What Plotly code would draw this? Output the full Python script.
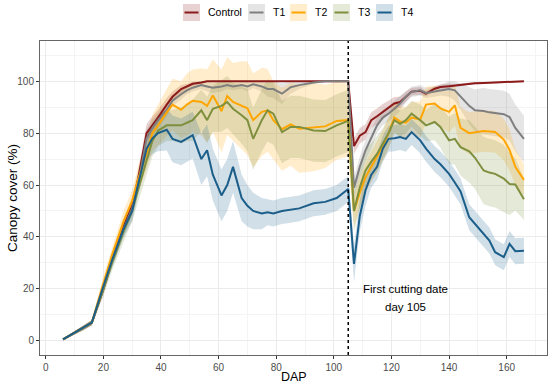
import plotly.graph_objects as go
import numpy as np

# ---------------- data ----------------
days = [6, 13, 16, 20, 23, 27, 30, 32, 35, 37, 39, 42, 44, 47, 49, 51, 54, 56, 58, 61,
        63, 65, 68, 70, 72, 75, 77, 79, 82, 85, 88, 93, 97, 101, 105,
        107, 109, 111, 113, 115, 117, 119, 121, 123, 125, 127, 130, 132, 135, 137,
        140, 142, 144, 147, 149, 152, 154, 156, 159, 161, 163, 166]

control = [0.5, 5, 7, 20, 31, 44, 52, 62, 80, 83, 86, 91, 94, 97, 98, 99, 99.5, 100, 100, 100,
           100, 100, 100, 100, 100, 100, 100, 100, 100, 100, 100, 100, 100, 100, 100,
           75, 79, 80.4, 85, 86.5, 88.2, 90, 91.4, 92, 94, 96, 96.3, 95.2, 97.1, 97.8,
           98.1, 98.4, 98.7, 99, 99.2, 99.3, 99.4, 99.5, 99.7, 99.7, 99.8, 100]
control_sd = [0.3, 1, 1, 2, 2, 2.5, 3, 3, 3.5, 3.5, 3, 2.5, 2, 1.5, 1, 0.8, 0.5] + [0.2] * 18 + \
             [3, 3, 3, 3, 3, 3, 2.5, 2.5, 2, 2, 1.5, 1.5, 1, 1, 1, 1, 0.5, 0.5, 0.5, 0.5,
              0.3, 0.3, 0.3, 0.3, 0.3, 0.3, 0.3]

t1 = [0.5, 5, 7, 20, 31, 43, 51, 60, 78, 82, 85, 89, 92.5, 95, 96.5, 97.5, 98.5, 98, 97.5, 98,
      98.5, 98, 98.5, 98, 98.8, 98, 97, 97, 95.2, 97.7, 98.5, 99.5, 100, 100, 100,
      59, 67, 73.4, 78, 83, 86, 87.5, 89.4, 91.4, 94, 95.9, 96.5, 95.5, 96, 96.5,
      97, 96.5, 94, 90.5, 88.8, 88.5, 88, 87.8, 87.3, 86.2, 82, 77.8]
t1_sd = [0.3, 1, 1, 2, 2.5, 3, 3, 3, 3.5, 3.5, 3, 2.5, 2, 2, 1.5, 1.5, 1.5, 2, 2, 2,
         1.5, 1.5, 1.5, 2, 1.5, 2, 3, 3.5, 4, 2.5, 1.5, 0.5, 0.3, 0.3, 0.3,
         4, 4, 4, 4, 3, 3, 3, 3, 3, 2, 2, 2, 2, 2, 2, 3, 4, 5, 7, 8, 9, 9, 9, 9, 9, 9, 9]

t2 = [0.5, 5, 7, 22, 33, 46, 54, 62, 72, 80, 83, 88, 91, 89, 91, 92.5, 92, 90.5, 94.5, 88.5,
      94.3, 92, 90.7, 89.6, 85, 88.2, 88.8, 85, 81.5, 83.4, 81.7, 82.3, 82.6, 84.7, 85,
      50, 57, 63, 67, 71, 75, 80, 86, 84.5, 84, 86, 85.2, 91, 91.4, 89.5,
      88.2, 90.7, 82, 80, 80.3, 80.8, 80.6, 80.4, 77.5, 73.5, 67, 62]
t2_sd = [0.3, 1, 1, 3, 3, 4, 4, 5, 6, 7, 8, 9, 10, 11, 12, 12, 13, 14, 14, 16,
         15, 15, 17, 18, 18, 17, 16, 15, 16, 16, 17, 17, 16, 15, 14,
         6, 6, 6, 6, 6, 6, 6, 6, 6, 6, 6, 7, 7, 7, 7, 8, 8, 8, 8, 8, 8, 8, 8, 8, 8, 7, 6]

t3 = [0.5, 5, 7, 20, 30, 42, 50, 58, 70, 77, 81, 83, 83, 83, 84, 85, 88.8, 85, 89.4, 90.5,
      92, 89.4, 86.9, 85, 77.8, 85, 88.8, 87.5, 80.4, 82.4, 82.4, 81, 80.8, 83, 84.7,
      50, 59, 65.6, 69, 72, 76, 80, 85, 83.6, 85, 87.5, 85, 83, 84.3, 82.4,
      77.2, 77.8, 74.6, 73, 70.5, 65.6, 64.8, 64.3, 62.5, 60.4, 60.2, 54.5]
t3_sd = [0.3, 1, 1, 3, 3, 4, 4, 5, 6, 6, 6, 6, 6, 7, 7, 8, 8, 9, 9, 10,
         10, 10, 11, 12, 12, 12, 12, 12, 12, 12, 12, 12, 12, 12, 12,
         8, 8, 8, 7, 7, 6, 6, 5, 5, 5, 5, 6, 6, 7, 8, 9, 10, 11, 12, 12, 13, 13, 13, 13, 12, 10, 8]

t4 = [0.5, 5, 7, 21, 31, 43, 50, 60, 74, 78, 80, 81.3, 77.8, 76.6, 78, 79.2, 70, 73.4, 64, 56,
      60, 67, 55, 52, 50, 49, 49.5, 49, 50, 50.5, 51, 53, 53.5, 55, 58.5,
      29.6, 48, 58, 64, 67, 74, 77.8, 78, 78.5, 77.8, 80.4, 77.2, 74, 70, 68,
      64.3, 61, 57.5, 47.6, 45, 41.2, 38.6, 34.1, 32.2, 37.3, 34.5, 34.7]
t4_sd = [0.3, 1, 1, 2, 3, 3, 4, 4, 5, 6, 7, 8, 9, 9, 9, 9, 10, 10, 10, 10,
         10, 10, 9, 8, 7, 6, 5, 5, 5, 5, 5, 5, 5, 5, 5,
         7, 6, 6] + [5] * 24

series_names = ["Control", "T1", "T2", "T3", "T4"]
series_vals = [control, t1, t2, t3, t4]
series_sd = [control_sd, t1_sd, t2_sd, t3_sd, t4_sd]
series_cap = [100, 100, None, None, None]
colors = ["#8B1A1A", "#7F7F7F", "#FFA500", "#7E8F3E", "#1B5E8A"]

x_ticks = [0, 20, 40, 60, 80, 100, 120, 140, 160]
y_ticks = [0, 20, 40, 60, 80, 100]
cut_day = 105
note_lines = ["First cutting date", "day 105"]


def rgba(hexc, a):
    h = hexc.lstrip("#")
    r, g, b = int(h[0:2], 16), int(h[2:4], 16), int(h[4:6], 16)
    return f"rgba({r},{g},{b},{a})"


fig = go.Figure()
x = np.array(days, dtype=float)

# ribbons first
for name, v, sd, cap, c in zip(series_names, series_vals, series_sd, series_cap, colors):
    v = np.array(v, dtype=float)
    sd = np.array(sd, dtype=float)
    lo = v - sd
    hi = v + sd
    if cap is not None:
        hi = np.minimum(hi, cap)
    fig.add_trace(go.Scatter(
        x=np.concatenate([x, x[::-1]]), y=np.concatenate([hi, lo[::-1]]),
        fill="toself", fillcolor=rgba(c, 0.2), line=dict(width=0),
        mode="lines", hoverinfo="skip", showlegend=False))

# lines
for name, v, c in zip(series_names, series_vals, colors):
    fig.add_trace(go.Scatter(x=days, y=v, mode="lines", name=name,
                             line=dict(color=c, width=2), showlegend=False))

# plot area geometry (pixels)
W, H = 550, 384
L, R, T, B = 40, 3, 41, 29
pw, ph = W - L - R, H - T - B


def px_to_paper_x(px):
    return (px - L) / pw


def px_to_paper_y(py):
    return (H - B - py) / ph


shapes = []
annotations = []

# dotted cut line
shapes.append(dict(type="line", xref="x", yref="paper", x0=cut_day, x1=cut_day, y0=0, y1=1,
                   line=dict(color="black", width=1.5, dash="dot")))

# custom legend (ggplot style keys)
key_left = [183, 248, 290, 333, 376]
key_w, key_top, key_bot = 17, 4, 21
for name, c, kl in zip(series_names, colors, key_left):
    shapes.append(dict(type="rect", xref="paper", yref="paper",
                       x0=px_to_paper_x(kl), x1=px_to_paper_x(kl + key_w),
                       y0=px_to_paper_y(key_bot), y1=px_to_paper_y(key_top),
                       fillcolor=rgba(c, 0.2), line=dict(width=0), layer="above"))
    ymid = px_to_paper_y((key_top + key_bot) / 2)
    shapes.append(dict(type="line", xref="paper", yref="paper",
                       x0=px_to_paper_x(kl + 1.5), x1=px_to_paper_x(kl + key_w - 1.5),
                       y0=ymid, y1=ymid, line=dict(color=c, width=2), layer="above"))
    annotations.append(dict(text=name, xref="paper", yref="paper",
                            x=px_to_paper_x(kl + key_w + 6), y=ymid,
                            xanchor="left", yanchor="middle", showarrow=False,
                            font=dict(size=10.5, color="black")))

# text annotation (two lines)
for txt, yy in zip(note_lines, [20, 13]):
    annotations.append(dict(text=txt, x=125, y=yy, xref="x", yref="y",
                            showarrow=False, font=dict(size=11.5, color="black"),
                            xanchor="center", yanchor="middle"))

# axis titles
annotations.append(dict(text="DAP", xref="paper", yref="paper", x=0.5, y=px_to_paper_y(377),
                        xanchor="center", yanchor="middle", showarrow=False,
                        font=dict(size=12.5, color="black")))
annotations.append(dict(text="Canopy cover (%)", xref="paper", yref="paper",
                        x=px_to_paper_x(12), y=0.5, textangle=-90,
                        xanchor="center", yanchor="middle", showarrow=False,
                        font=dict(size=13.5, color="black")))

grid_major = "#EBEBEB"
grid_minor = "#F4F4F4"

fig.update_layout(
    width=W, height=H,
    margin=dict(l=L, r=R, t=T, b=B, pad=0),
    paper_bgcolor="white", plot_bgcolor="white",
    font=dict(family="Liberation Sans, Arial, sans-serif"),
    shapes=shapes, annotations=annotations, showlegend=False,
    xaxis=dict(range=[-2, 174], tickvals=x_ticks, showgrid=True, gridcolor=grid_major,
               gridwidth=1, zeroline=False, ticks="outside", ticklen=3, tickcolor="#333333",
               tickfont=dict(size=10, color="#4D4D4D"),
               showline=True, linecolor="#666666", linewidth=1, mirror=True,
               minor=dict(dtick=10, tick0=0, showgrid=True, gridcolor=grid_minor, gridwidth=0.6,
                          ticks="")),
    yaxis=dict(range=[-5.5, 115.5], tickvals=y_ticks, showgrid=True, gridcolor=grid_major,
               gridwidth=1, zeroline=False, ticks="outside", ticklen=3, tickcolor="#333333",
               tickfont=dict(size=10, color="#4D4D4D"),
               showline=True, linecolor="#666666", linewidth=1, mirror=True,
               minor=dict(dtick=10, tick0=0, showgrid=True, gridcolor=grid_minor, gridwidth=0.6,
                          ticks="")),
)

fig.write_html("out.html", config={"responsive": False, "displayModeBar": False},
               post_script="document.body.style.margin='0px';document.body.style.padding='0px';")
